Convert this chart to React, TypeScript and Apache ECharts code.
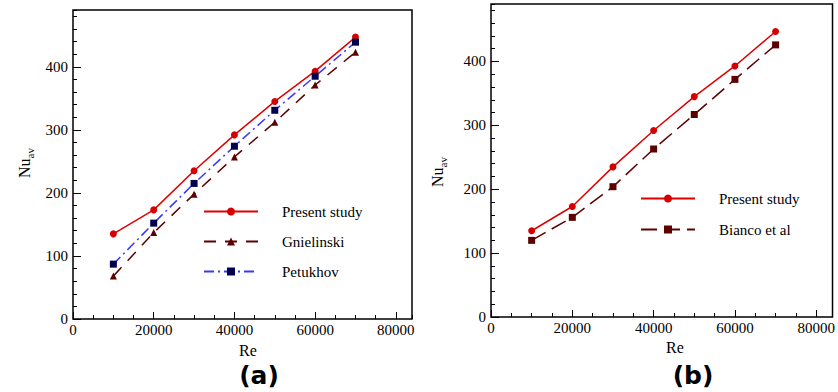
import React, { useEffect, useRef } from "react";
import * as echarts from "echarts";

const reValues = [10000, 20000, 30000, 40000, 50000, 60000, 70000];
const presentNu = [135, 173, 235, 292, 345, 393, 447];
const gnielinskiNu = [68, 137, 198, 257, 312, 371, 423];
const petukhovNu = [87, 152, 215, 274, 331, 385, 439];
const biancoNu = [120, 156, 204, 263, 317, 372, 426];
const legendA = ["Present study", "Gnielinski", "Petukhov"];
const legendB = ["Present study", "Bianco et al"];
const panelLabels = ["(a)", "(b)"];

const SERIF = "'Liberation Serif', 'Times New Roman', Times, serif";
const RED = "#e00000";
const MAROON = "#5c0000";
const BLUE = "#3838ff";
const NAVY = "#00004f";

function pairs(ys: number[]) {
  return reValues.map((x, i) => [x, ys[i]]);
}

export default function App() {
  const ref = useRef<HTMLDivElement>(null);
  useEffect(() => {
    if (!ref.current) return;
    const chart = echarts.init(ref.current, null, { renderer: "svg" });
    const grids = [
      { left: 73, top: 10, width: 339, height: 309 },
      { left: 491, top: 4, width: 343, height: 313 },
    ];
    const mainX = (gi: number) => ({
      type: "value",
      gridIndex: gi,
      min: 0,
      max: 84000,
      interval: 20000,
      axisLine: { show: false },
      axisTick: { show: true, inside: true, length: 7, lineStyle: { color: "#000", width: 1 } },
      splitLine: { show: false },
      axisLabel: { color: "#000", fontFamily: SERIF, fontSize: 15, margin: 3, showMaxLabel: false, formatter: (v: number) => String(v) },
    });
    const minorX = (gi: number) => ({
      type: "value",
      gridIndex: gi,
      min: 0,
      max: 84000,
      interval: 5000,
      position: "bottom",
      axisLine: { show: false },
      axisTick: { show: true, inside: true, length: 4, lineStyle: { color: "#000", width: 1 } },
      splitLine: { show: false },
      axisLabel: { show: false },
    });
    const mainY = (gi: number) => ({
      type: "value",
      gridIndex: gi,
      min: 0,
      max: 490,
      interval: 100,
      axisLine: { show: false },
      axisTick: { show: true, inside: true, length: 8, lineStyle: { color: "#000", width: 1 } },
      splitLine: { show: false },
      axisLabel: { color: "#000", fontFamily: SERIF, fontSize: 15, margin: 5, showMaxLabel: false, formatter: (v: number) => String(v) },
    });
    const minorY = (gi: number) => ({
      type: "value",
      gridIndex: gi,
      min: 0,
      max: 490,
      interval: 20,
      position: "left",
      axisLine: { show: false },
      axisTick: { show: true, inside: true, length: 4, lineStyle: { color: "#000", width: 1 } },
      splitLine: { show: false },
      axisLabel: { show: false },
    });
    const rich = {
      a: { fontFamily: SERIF, fontSize: 16, color: "#000", lineHeight: 22, verticalAlign: "middle" },
      b: { fontFamily: SERIF, fontSize: 11, color: "#000", lineHeight: 22, verticalAlign: "bottom" },
    };
    const legendCommon = {
      orient: "vertical",
      padding: 0,
      itemWidth: 54,
      itemHeight: 10,
      textStyle: { fontFamily: SERIF, fontSize: 15, color: "#000", padding: [0, 0, 0, 19] },
    };
    chart.setOption({
      animation: false,
      backgroundColor: "#fff",
      grid: grids.map((g) => ({ ...g, show: true, borderColor: "#000", borderWidth: 1.5, backgroundColor: "transparent" })),
      xAxis: [mainX(0), minorX(0), mainX(1), minorX(1)],
      yAxis: [mainY(0), minorY(0), mainY(1), minorY(1)],
      legend: [
        { ...legendCommon, left: 203, top: 204, itemGap: 15, data: legendA },
        { ...legendCommon, left: 640, top: 191, itemGap: 16, data: legendB },
      ],
      graphic: [
        { type: "text", x: 259, y: 375, style: { text: panelLabels[0], font: "bold 25px 'DejaVu Sans'", fill: "#000", align: "center", verticalAlign: "middle" } },
        { type: "text", x: 693, y: 375, style: { text: panelLabels[1], font: "bold 25px 'DejaVu Sans'", fill: "#000", align: "center", verticalAlign: "middle" } },
        { type: "text", x: 248, y: 350, style: { text: "Re", font: `16px ${SERIF}`, fill: "#000", align: "center", verticalAlign: "middle" } },
        { type: "text", x: 675, y: 347, style: { text: "Re", font: `16px ${SERIF}`, fill: "#000", align: "center", verticalAlign: "middle" } },
        { type: "text", x: 24, y: 163, rotation: Math.PI / 2, style: { text: "{a|Nu}{b|av}", rich, align: "center", verticalAlign: "middle" } },
        { type: "text", x: 437, y: 172, rotation: Math.PI / 2, style: { text: "{a|Nu}{b|av}", rich, align: "center", verticalAlign: "middle" } },
      ],
      series: [
        {
          name: "Present study", type: "line", xAxisIndex: 0, yAxisIndex: 0, data: pairs(presentNu),
          symbol: "circle", symbolSize: 7, lineStyle: { color: RED, width: 1.5 }, itemStyle: { color: "#d60000" },
        },
        {
          name: "Gnielinski", type: "line", xAxisIndex: 0, yAxisIndex: 0, data: pairs(gnielinskiNu),
          symbol: "triangle", symbolSize: 7, lineStyle: { color: MAROON, width: 1.5, type: [12, 9] }, itemStyle: { color: MAROON },
        },
        {
          name: "Petukhov", type: "line", xAxisIndex: 0, yAxisIndex: 0, data: pairs(petukhovNu),
          symbol: "rect", symbolSize: 7, lineStyle: { color: BLUE, width: 1.5, type: [10, 4, 2, 4] }, itemStyle: { color: NAVY },
        },
        {
          name: "Present study", type: "line", xAxisIndex: 2, yAxisIndex: 2, data: pairs(presentNu),
          symbol: "circle", symbolSize: 7, lineStyle: { color: RED, width: 1.5 }, itemStyle: { color: "#d60000" },
        },
        {
          name: "Bianco et al", type: "line", xAxisIndex: 2, yAxisIndex: 2, data: pairs(biancoNu),
          symbol: "rect", symbolSize: 7, lineStyle: { color: MAROON, width: 1.5, type: [16, 7] }, itemStyle: { color: MAROON },
        },
      ],
    });
    return () => chart.dispose();
  }, []);
  return <div ref={ref} style={{ position: "absolute", left: 0, top: 0, width: 838, height: 392 }} />;
}
